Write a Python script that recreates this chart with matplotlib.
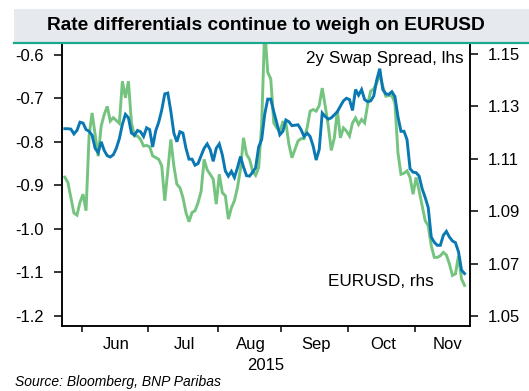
import numpy as np
import pandas as pd
import matplotlib
matplotlib.use("Agg")
import matplotlib.pyplot as plt
from matplotlib.patches import Rectangle
from matplotlib.lines import Line2D

plt.rcParams['font.family'] = ['Liberation Sans', 'DejaVu Sans']
plt.rcParams['axes.unicode_minus'] = False

# ---------------- data ----------------
dates = pd.bdate_range('2015-05-22', '2015-11-24')

swap_spread = [  # 2y swap spread, lhs (blue)
    -0.770, -0.770, -0.771, -0.782, -0.774, -0.755, -0.757, -0.772, -0.776, -0.785,
    -0.815, -0.825, -0.800, -0.820, -0.832, -0.835, -0.830, -0.815, -0.793, -0.760,
    -0.737, -0.745, -0.780, -0.785, -0.774, -0.777, -0.788, -0.768, -0.772, -0.812,
    -0.775, -0.755, -0.727, -0.690, -0.688, -0.730, -0.780, -0.800, -0.777, -0.780,
    -0.815, -0.840, -0.840, -0.854, -0.850, -0.832, -0.815, -0.805, -0.818, -0.845,
    -0.815, -0.805, -0.830, -0.867, -0.879, -0.868, -0.882, -0.860, -0.834, -0.858,
    -0.878, -0.879, -0.870, -0.860, -0.812, -0.795, -0.737, -0.702, -0.702, -0.731,
    -0.757, -0.784, -0.776, -0.750, -0.754, -0.763, -0.762, -0.761, -0.772, -0.788,
    -0.780, -0.788, -0.810, -0.842, -0.818, -0.734, -0.742, -0.748, -0.745, -0.738,
    -0.731, -0.718, -0.706, -0.700, -0.703, -0.728, -0.680, -0.693, -0.680, -0.703,
    -0.708, -0.706, -0.695, -0.658, -0.632, -0.680, -0.690, -0.691, -0.685, -0.696,
    -0.742, -0.776, -0.776, -0.795, -0.862, -0.870, -0.871, -0.879, -0.908, -0.928,
    -0.951, -1.019, -1.031, -1.038, -1.038, -1.015, -1.006, -1.019, -1.028, -1.032,
    -1.053, -1.095, -1.103,
]

eurusd = [  # EURUSD, rhs (green)
    1.1030, 1.1010, 1.0952, 1.0893, 1.0885, 1.0934, 1.0965, 1.0902, 1.1187, 1.1275,
    1.1193, 1.1110, 1.1225, 1.1269, 1.1300, 1.1244, 1.1257, 1.1246, 1.1235, 1.1396,
    1.1333, 1.1396, 1.1237, 1.1187, 1.1187, 1.1174, 1.1149, 1.1151, 1.1146, 1.1111,
    1.1105, 1.1098, 1.1073, 1.0940, 1.1054, 1.1174, 1.1073, 1.1003, 1.0990, 1.0952,
    1.0895, 1.0860, 1.0895, 1.0902, 1.0933, 1.0976, 1.1098, 1.1058, 1.1041, 1.1022,
    1.0927, 1.1041, 1.0971, 1.0959, 1.0870, 1.0913, 1.0940, 1.0990, 1.1060, 1.1180,
    1.1117, 1.1098, 1.1054, 1.1037, 1.1066, 1.1230, 1.1600, 1.1430, 1.1405, 1.1237,
    1.1218, 1.1205, 1.1240, 1.1237, 1.1155, 1.1104, 1.1136, 1.1168, 1.1177, 1.1177,
    1.1218, 1.1282, 1.1288, 1.1282, 1.1303, 1.1370, 1.1301, 1.1225, 1.1132, 1.1180,
    1.1285, 1.1180, 1.1218, 1.1206, 1.1187, 1.1237, 1.1256, 1.1231, 1.1250, 1.1237,
    1.1307, 1.1358, 1.1367, 1.1390, 1.1421, 1.1377, 1.1339, 1.1341, 1.1341, 1.1314,
    1.1124, 1.1041, 1.1045, 1.1054, 1.1029, 1.0965, 1.1029, 1.0978, 1.0921, 1.0864,
    1.0845, 1.0769, 1.0724, 1.0724, 1.0730, 1.0743, 1.0733, 1.0699, 1.0655, 1.0661,
    1.0730, 1.0642, 1.0617,
]

left_ticks = [-0.6, -0.7, -0.8, -0.9, -1.0, -1.1, -1.2]
right_ticks = [1.15, 1.13, 1.11, 1.09, 1.07, 1.05]
month_labels = ['Jun', 'Jul', 'Aug', 'Sep', 'Oct', 'Nov']
year_label = '2015'
title = 'Rate differentials continue to weigh on EURUSD'
label_swap = '2y Swap Spread, lhs'
label_fx = 'EURUSD, rhs'
source = 'Source: Bloomberg, BNP Paribas'

BLUE = '#0a78b2'
GREEN = '#74c47f'

# ---------------- figure ----------------
W, H = 529, 391
fig = plt.figure(figsize=(W / 100, H / 100), dpi=100)

def fx(px):
    return px / W

def fy(py):
    return 1 - py / H

# title band
fig.patches.append(Rectangle((fx(14), fy(43)), fx(529) - fx(14), fy(9) - fy(43),
                             transform=fig.transFigure, facecolor='#e6e9ed',
                             edgecolor='none', zorder=0))
fig.lines.append(Line2D([fx(14), 1.0], [fy(43), fy(43)], transform=fig.transFigure,
                        color='#1aa98c', lw=1.6, zorder=1))
fig.text(fx(266), fy(26), title, ha='center', va='center', fontsize=13.8,
         fontweight='bold', color='black')

ax = fig.add_axes([fx(62), fy(326), fx(470) - fx(62), fy(43) - fy(326)])
ax2 = ax.twinx()

x = np.arange(len(dates))
ax2.plot(x, eurusd, color=GREEN, lw=2.1, solid_joinstyle='miter')
ax.plot(x, swap_spread, color=BLUE, lw=2.1, solid_joinstyle='miter')
ax.set_zorder(ax2.get_zorder() + 1)
ax.patch.set_visible(False)

ax.set_xlim(-0.94, 133.8)
ax.set_ylim(-1.2235, -0.573)
ax2.set_ylim(1.0462, 1.1542)

for a in (ax, ax2):
    a.spines['top'].set_visible(False)
    for s in a.spines.values():
        s.set_linewidth(1.1)

ax.set_yticks(left_ticks)
ax.set_yticklabels([f'{v:.1f}' for v in left_ticks])
ax2.set_yticks(right_ticks)
ax2.set_yticklabels([f'{v:.2f}' for v in right_ticks])
ax.tick_params(axis='y', direction='out', length=6, width=1.1, pad=7, labelsize=12)
ax2.tick_params(axis='y', direction='out', length=6, width=1.1, pad=7, labelsize=12)

# month boundaries
month_starts = []
for m in range(6, 12):
    idx = np.where((dates.month == m) & (dates.year == 2015))[0]
    month_starts.append(idx[0])
month_starts = np.array(month_starts)
ends = np.append(month_starts[1:], month_starts[-1] + 21)
mids = (month_starts + ends) / 2.0

ax.set_xticks(month_starts - 0.5)
ax.set_xticklabels([])
ax.set_xticks(mids, minor=True)
ax.set_xticklabels(month_labels, minor=True)
ax.tick_params(axis='x', which='major', direction='out', length=4, width=1.1)
ax.tick_params(axis='x', which='minor', length=0, pad=8, labelsize=12)

fig.text(fx(265.5), fy(366), year_label, ha='center', va='center', fontsize=12)
fig.text(fx(464), fy(58), label_swap, ha='right', va='center', fontsize=12.3)
fig.text(fx(327.5), fy(281.5), label_fx, ha='left', va='center', fontsize=12.3)
fig.text(fx(15), fy(389), source, ha='left', va='bottom', fontsize=10, style='italic')

fig.savefig('out.png', dpi=100)
